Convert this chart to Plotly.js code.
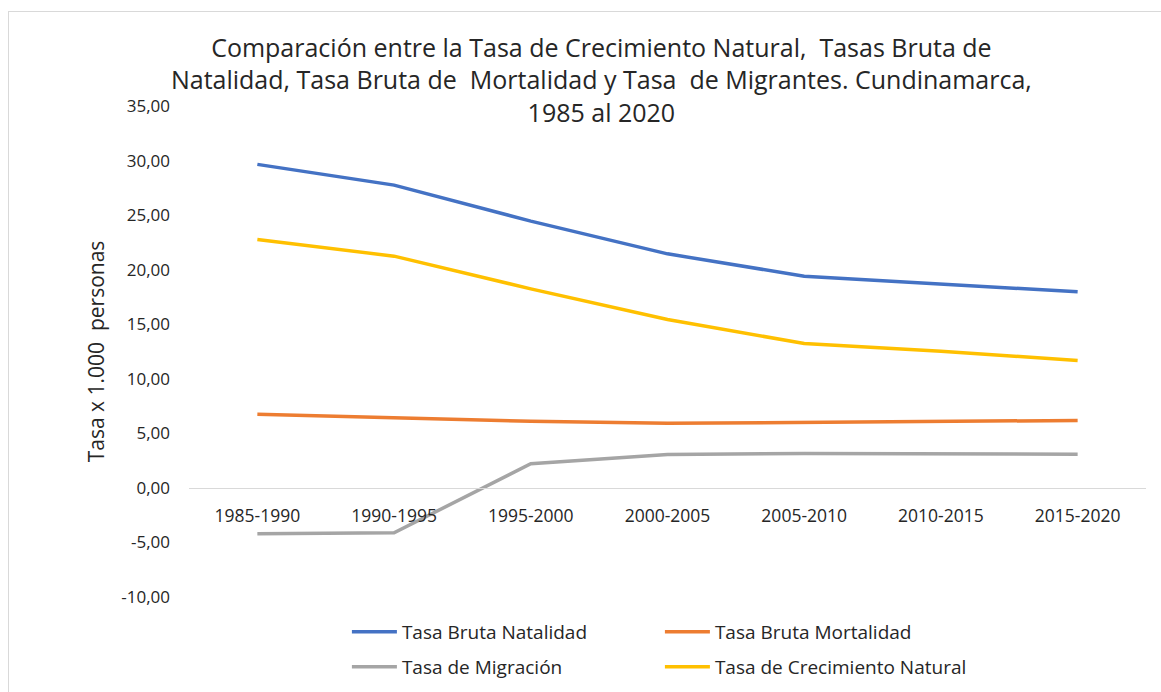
<!DOCTYPE html>
<html>
<head>
<meta charset="utf-8">
<script src="https://cdn.plot.ly/plotly-3.0.1.min.js"></script>
<style>
  html, body { margin: 0; padding: 0; background: #ffffff; }
  #frame { position: absolute; left: 8px; top: 11px; width: 1300px; height: 800px;
           border-left: 1px solid #d9d9d9; border-top: 1px solid #d9d9d9; }
  #chart { position: absolute; left: 0; top: 0; width: 1161px; height: 692px; }
</style>
</head>
<body>
<div id="frame"></div>
<div id="chart"></div>
<script>
const periods = ["1985-1990", "1990-1995", "1995-2000", "2000-2005", "2005-2010", "2010-2015", "2015-2020"];
const natalidad = [29.65, 27.75, 24.45, 21.45, 19.40, 18.70, 17.97];
const mortalidad = [6.75, 6.42, 6.11, 5.92, 6.02, 6.11, 6.18];
const migracion = [-4.20, -4.12, 2.22, 3.06, 3.15, 3.08, 3.08];
const crecimiento = [22.77, 21.24, 18.24, 15.43, 13.23, 12.53, 11.67];
const yTickVals = [-10, -5, 0, 5, 10, 15, 20, 25, 30, 35];
const yTickText = ["-10,00", "-5,00", "0,00", "5,00", "10,00", "15,00", "20,00", "25,00", "30,00", "35,00"];

const FONT = '"Open Sans", "Segoe UI", sans-serif';
const lw = 3.5;

const traces = [
  {x: periods, y: natalidad, name: "Tasa Bruta Natalidad", type: "scatter", mode: "lines",
   line: {color: "#4472C4", width: lw}, legend: "legend"},
  {x: periods, y: mortalidad, name: "Tasa Bruta Mortalidad", type: "scatter", mode: "lines",
   line: {color: "#ED7D31", width: lw}, legend: "legend"},
  {x: periods, y: migracion, name: "Tasa de Migración", type: "scatter", mode: "lines",
   line: {color: "#A5A5A5", width: lw}, legend: "legend2"},
  {x: periods, y: crecimiento, name: "Tasa de Crecimiento Natural", type: "scatter", mode: "lines",
   line: {color: "#FFC000", width: lw}, legend: "legend2"}
];

const legendCommon = {
  orientation: "h", entrywidth: 253, entrywidthmode: "pixels", itemwidth: 45,
  font: {family: FONT, size: 19, color: "#262626"},
  bgcolor: "rgba(0,0,0,0)", xanchor: "left", yanchor: "middle", traceorder: "normal"
};

const layout = {
  width: 1161, height: 692,
  paper_bgcolor: "rgba(0,0,0,0)", plot_bgcolor: "rgba(0,0,0,0)",
  margin: {l: 189, r: 15, t: 106, b: 95, autoexpand: false},
  separators: ",.",
  title: {
    text: "Comparación entre la Tasa de Crecimiento Natural,\u00a0 Tasas Bruta de<br>Natalidad, Tasa Bruta de\u00a0 Mortalidad y Tasa\u00a0 de Migrantes. Cundinamarca,<br>1985 al 2020",
    font: {family: FONT, size: 25, color: "#262626"},
    x: 0.518, xanchor: "center", yref: "container", y: 0.918, yanchor: "top"
  },
  xaxis: {
    type: "category", anchor: "free", position: 0.2222,
    showline: true, linecolor: "#d9d9d9", linewidth: 1.5,
    showgrid: false, zeroline: false, ticks: "",
    ticklabelstandoff: 12,
    tickfont: {family: FONT, size: 17.5, color: "#262626"},
    range: [-0.5, 6.5]
  },
  yaxis: {
    range: [-10, 35], tickmode: "array", tickvals: yTickVals, ticktext: yTickText,
    showgrid: false, zeroline: false, showline: false, ticks: "",
    ticklabelstandoff: 18,
    tickfont: {family: FONT, size: 17, color: "#262626"},
    title: {text: "Tasa x 1.000\u00a0 personas", font: {family: FONT, size: 21, color: "#262626"}, standoff: 10}
  },
  legend: Object.assign({}, legendCommon, {x: 0.165, y: -0.071}),
  legend2: Object.assign({}, legendCommon, {x: 0.165, y: -0.1425}),
  showlegend: true
};

Plotly.newPlot("chart", traces, layout, {displayModeBar: false, staticPlot: true});
</script>
</body>
</html>
